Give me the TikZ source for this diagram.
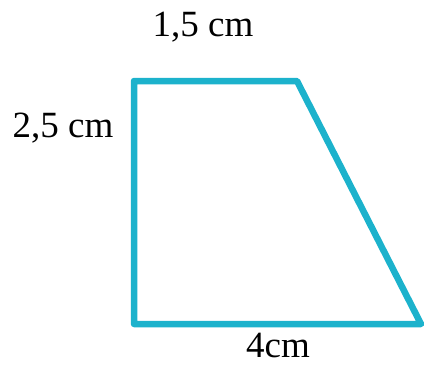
\documentclass[tikz,border=0pt]{standalone}
\usepackage{fontspec}
\setmainfont{Liberation Serif}
\definecolor{cian}{RGB}{28,178,204}
\begin{document}
\begin{tikzpicture}[x=1pt, y=-1pt,
        lado/.style={draw=cian, line width=6.5pt, line join=round},
        medida/.style={font=\fontsize{37}{40}\selectfont, inner sep=0pt}
    ]
    \useasboundingbox (0,0) rectangle (428,364);

    % --- TRAPECIO ---
    \coordinate (A) at (134, 81);
    \coordinate (B) at (297, 81);
    \coordinate (C) at (421, 324);
    \coordinate (D) at (134, 324);

    \draw[lado] (A) -- (B) -- (C) -- (D) -- cycle;

    % --- MEDIDAS ---
    \node[medida] (top) at (203, 27) {1,5 cm};
    \node[medida] (izq) at (63, 128) {2,5 cm};
    \node[medida] (base) at (278, 345) {4cm};
\end{tikzpicture}
\end{document}
